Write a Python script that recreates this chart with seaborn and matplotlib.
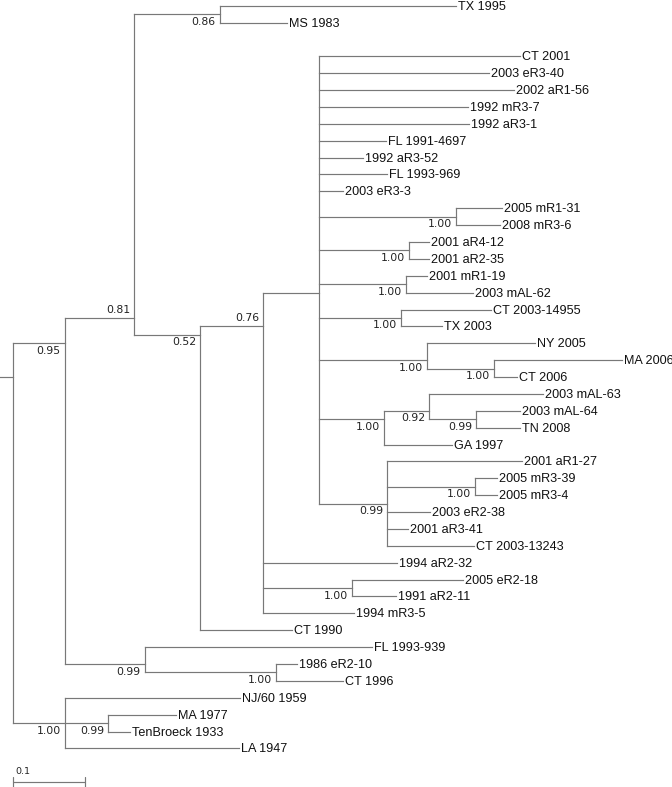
import matplotlib
matplotlib.use("Agg")
import matplotlib.pyplot as plt
import matplotlib.transforms as mtransforms
import seaborn as sns
import pandas as pd
import numpy as np

# ---------------- data: tree edges (depth-first order) ----------------
node = ["root", "c095", "c081", "c086", "TX 1995", "MS 1983", "c052", "c076", "cpoly", "_gap",
        "CT 2001", "2003 eR3-40", "2002 aR1-56", "1992 mR3-7", "1992 aR3-1", "FL 1991-4697",
        "1992 aR3-52", "FL 1993-969", "2003 eR3-3",
        "cA", "2005 mR1-31", "2008 mR3-6",
        "cB", "2001 aR4-12", "2001 aR2-35",
        "cC", "2001 mR1-19", "2003 mAL-62",
        "cD", "CT 2003-14955", "TX 2003",
        "cE", "NY 2005", "cE2", "MA 2006", "CT 2006",
        "cF", "cF2", "2003 mAL-63", "cF3", "2003 mAL-64", "TN 2008", "GA 1997",
        "cG", "2001 aR1-27", "cG2", "2005 mR3-39", "2005 mR3-4", "2003 eR2-38", "2001 aR3-41", "CT 2003-13243",
        "1994 aR2-32", "cH", "2005 eR2-18", "1991 aR2-11", "1994 mR3-5",
        "CT 1990",
        "cI", "FL 1993-939", "cI2", "1986 eR2-10", "CT 1996",
        "cJ", "NJ/60 1959", "cJ2", "MA 1977", "TenBroeck 1933", "LA 1947"]
parent = [None, "root", "c095", "c081", "c086", "c086", "c081", "c052", "c076", "cpoly",
          "cpoly", "cpoly", "cpoly", "cpoly", "cpoly", "cpoly",
          "cpoly", "cpoly", "cpoly",
          "cpoly", "cA", "cA",
          "cpoly", "cB", "cB",
          "cpoly", "cC", "cC",
          "cpoly", "cD", "cD",
          "cpoly", "cE", "cE", "cE2", "cE2",
          "cpoly", "cF", "cF2", "cF2", "cF3", "cF3", "cF",
          "cpoly", "cG", "cG", "cG2", "cG2", "cG", "cG", "cG",
          "c076", "c076", "cH", "cH", "c076",
          "c052",
          "c095", "cI", "cI", "cI2", "cI2",
          "root", "cJ", "cJ", "cJ2", "cJ2", "cJ"]
length = [0.018, 0.072, 0.096, 0.119, 0.329, 0.093, 0.092, 0.0875, 0.078, 0.0,
          0.279, 0.235, 0.271, 0.206, 0.208, 0.092,
          0.061, 0.094, 0.033,
          0.190, 0.064, 0.061,
          0.124, 0.029, 0.028,
          0.121, 0.029, 0.093,
          0.114, 0.124, 0.057,
          0.149, 0.150, 0.093, 0.178, 0.033,
          0.090, 0.0625, 0.158, 0.065, 0.061, 0.061, 0.094,
          0.094, 0.1875, 0.122, 0.031, 0.031, 0.060, 0.029, 0.121,
          0.186, 0.124, 0.153, 0.060, 0.126,
          0.128,
          0.111, 0.315, 0.183, 0.029, 0.092,
          0.072, 0.243, 0.060, 0.094, 0.031, 0.242]
support = ["", "0.95", "0.81", "0.86", "", "", "0.52", "0.76", "", "",
           "", "", "", "", "", "",
           "", "", "",
           "1.00", "", "",
           "1.00", "", "",
           "1.00", "", "",
           "1.00", "", "",
           "1.00", "", "1.00", "", "",
           "1.00", "0.92", "", "0.99", "", "", "",
           "0.99", "", "1.00", "", "", "", "", "",
           "", "1.00", "", "", "",
           "",
           "0.99", "", "1.00", "", "",
           "1.00", "", "0.99", "", "", ""]
support_above = ["c081", "c076"]
hidden = ["_gap"]
scale_value = 0.1

# ---------------- layout ----------------
children = {n: [] for n in node}
for n, p in zip(node, parent):
    if p is not None:
        children[p].append(n)
blen = dict(zip(node, length))
par = dict(zip(node, parent))

xpos = {}
for n in node:  # preorder, parents first
    xpos[n] = (0.0 if par[n] is None else xpos[par[n]]) + blen[n]

leaves = [n for n in node if not children[n]]
row = {n: i for i, n in enumerate(leaves)}

def leaf_rows(n):
    if not children[n]:
        return [row[n]]
    out = []
    for c in children[n]:
        out += leaf_rows(c)
    return out

ypos = {n: float(np.mean(leaf_rows(n))) for n in node}

segs = []
sid = 0
for n in node:
    if n in hidden:
        continue
    x0 = 0.0 if par[n] is None else xpos[par[n]]
    segs += [(sid, x0, ypos[n]), (sid, xpos[n], ypos[n])]
    sid += 1
    vis = [c for c in children[n] if c not in hidden]
    if vis:
        ys = [ypos[c] for c in vis]
        segs += [(sid, xpos[n], min(ys)), (sid, xpos[n], max(ys))]
        sid += 1
seg_df = pd.DataFrame(segs, columns=["seg", "x", "y"])

# ---------------- drawing ----------------
sns.set_style("white")
plt.rcParams["font.family"] = ["Liberation Sans", "DejaVu Sans"]

fig = plt.figure(figsize=(6.72, 7.87), dpi=100)
ax = fig.add_axes([0, 0, 1, 1])
line_color = "#787878"
sns.lineplot(data=seg_df, x="x", y="y", units="seg", estimator=None, sort=False,
             color=line_color, linewidth=0.85, legend=False, ax=ax,
             solid_capstyle="projecting")

ax.set_xlim(0, 672 / 720)
ax.set_ylim((787 - 5.7) / 16.88, -5.7 / 16.88)
ax.axis("off")

for n in leaves:
    if n in hidden:
        continue
    ax.annotate(n, (xpos[n], ypos[n]), xytext=(2, -1), textcoords="offset pixels",
                ha="left", va="center", fontsize=9.1, family="Liberation Sans", color="#111111")

for n, s in zip(node, support):
    if not s:
        continue
    dy = 8 if n in support_above else -7.5
    ax.annotate(s, (xpos[n], ypos[n]), xytext=(-4, dy), textcoords="offset pixels",
                ha="right", va="center", fontsize=7.8, family="DejaVu Sans", color="#222222")

# scale bar
trans = mtransforms.blended_transform_factory(ax.transData, ax.transAxes)
x0 = xpos["root"]
ybar = 1 - 782 / 787
ax.plot([x0, x0 + scale_value], [ybar, ybar], color=line_color, lw=0.85, transform=trans)
for xx in (x0, x0 + scale_value):
    ax.plot([xx, xx], [ybar - 0.0065, ybar + 0.006], color=line_color, lw=0.85, transform=trans)
ax.text(x0 + 0.003, ybar + 0.0075, f"{scale_value:g}", transform=trans, ha="left", va="bottom",
        fontsize=6.8, family="DejaVu Sans", color="#222222")

fig.savefig("out.png", dpi=100)
